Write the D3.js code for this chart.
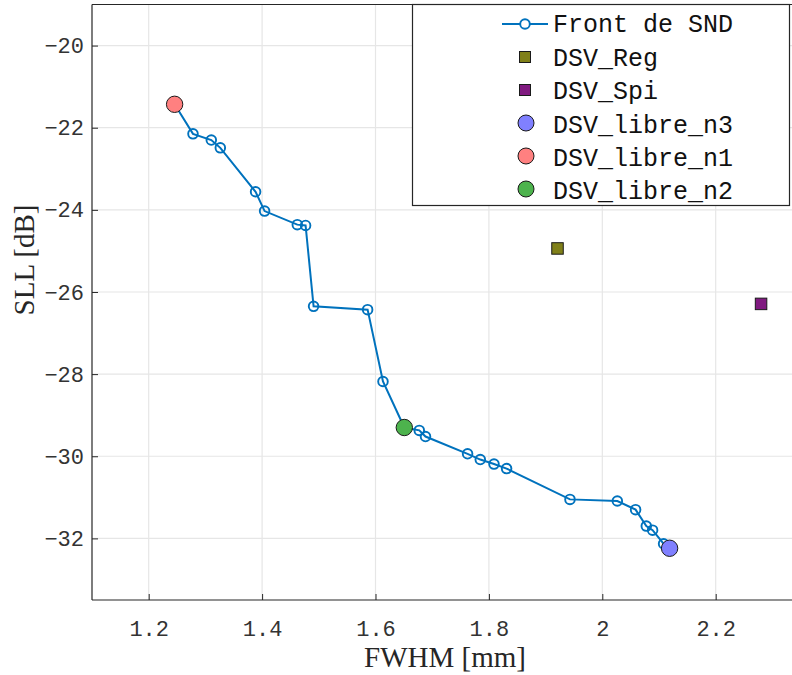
<!DOCTYPE html>
<html><head><meta charset="utf-8">
<script src="https://cdn.jsdelivr.net/npm/d3@7"></script>
<style>body{margin:0;background:#fff}svg{display:block}</style>
</head><body>
<svg id="c" width="792" height="675"></svg>
<script>
// ---- data ----
const frontFWHM = [1.2457,1.2781,1.3104,1.3263,1.3885,1.4044,1.4621,1.4767,1.4908,1.5861,1.6132,1.6508,1.6772,1.6882,1.7624,1.7848,1.8090,1.8312,1.9430,2.0265,2.0587,2.0776,2.0887,2.1081,2.1187];
const frontSLL  = [-21.43,-22.15,-22.30,-22.49,-23.56,-24.03,-24.36,-24.38,-26.35,-26.43,-28.18,-29.30,-29.37,-29.52,-29.94,-30.08,-30.19,-30.30,-31.05,-31.09,-31.30,-31.70,-31.80,-32.13,-32.24];
const regPoint = [1.921, -24.94];
const spiPoint = [2.280, -26.29];
const libreN3 = [2.1187, -32.24];
const libreN1 = [1.2457, -21.43];
const libreN2 = [1.6508, -29.30];
const xTicks = [1.2,1.4,1.6,1.8,2,2.2];
const yTicks = [-32,-30,-28,-26,-24,-22,-20];
const xLabel = "FWHM [mm]";
const yLabel = "SLL [dB]";
const legendLabels = ["Front de SND","DSV_Reg","DSV_Spi","DSV_libre_n3","DSV_libre_n1","DSV_libre_n2"];

// ---- layout ----
const L = 92, T = 4.5, B = 600, W = 792;
const x = d3.scaleLinear().domain([1.1, 2.4]).range([L, L + 1.3*567]);
const y = d3.scaleLinear().domain([-33.5, -19]).range([B, T]);
const svg = d3.select("#c");
const monoFont = "'Liberation Mono', 'DejaVu Sans Mono', monospace";
const serifFont = "'Liberation Serif', 'DejaVu Serif', serif";
const blue = "#0072BD";

svg.append("defs").append("clipPath").attr("id","clip")
  .append("rect").attr("x",L).attr("y",T).attr("width",W-L).attr("height",B-T);

// grid
const g = svg.append("g");
g.selectAll(".gx").data(xTicks).enter().append("line")
  .attr("x1",d=>x(d)).attr("x2",d=>x(d)).attr("y1",T).attr("y2",B)
  .attr("stroke","#e6e6e6").attr("stroke-width",1.2);
g.selectAll(".gy").data(yTicks).enter().append("line")
  .attr("x1",L).attr("x2",W).attr("y1",d=>y(d)).attr("y2",d=>y(d))
  .attr("stroke","#e6e6e6").attr("stroke-width",1.2);

// axes (ticks inward)
const xAxis = d3.axisBottom(x).tickValues(xTicks).tickSizeInner(-6).tickSizeOuter(0).tickPadding(20)
  .tickFormat(d=>String(+d.toFixed(1)));
const yAxis = d3.axisLeft(y).tickValues(yTicks).tickSizeInner(-6).tickSizeOuter(0).tickPadding(8)
  .tickFormat(d=>"\u2212"+Math.abs(d));
const gx = svg.append("g").attr("transform",`translate(0,${B})`).call(xAxis);
const gy = svg.append("g").attr("transform",`translate(${L},0)`).call(yAxis);
[gx,gy].forEach(a=>{
  a.select(".domain").remove();
  a.selectAll(".tick line").attr("stroke","#262626").attr("stroke-width",1);
  a.selectAll("text").attr("font-family",monoFont).attr("font-size",22).attr("fill","#333");
});
// box lines
svg.append("line").attr("x1",L).attr("x2",W).attr("y1",B).attr("y2",B).attr("stroke","#262626").attr("stroke-width",1.2);
svg.append("line").attr("x1",L).attr("x2",W).attr("y1",T).attr("y2",T).attr("stroke","#262626").attr("stroke-width",1.2);
svg.append("line").attr("x1",L).attr("x2",L).attr("y1",T).attr("y2",B).attr("stroke","#262626").attr("stroke-width",1.2);

// axis titles
svg.append("text").attr("x",445).attr("y",667).attr("text-anchor","middle")
  .attr("font-family",serifFont).attr("font-size",29).attr("fill","#262626").text(xLabel);
svg.append("text").attr("transform","translate(34,260) rotate(-90)").attr("text-anchor","middle")
  .attr("font-family",serifFont).attr("font-size",29).attr("fill","#262626").text(yLabel);

// plot
const p = svg.append("g").attr("clip-path","url(#clip)");
const pts = frontFWHM.map((v,i)=>[v, frontSLL[i]]);
p.append("path").datum(pts)
  .attr("d", d3.line().x(d=>x(d[0])).y(d=>y(d[1])))
  .attr("fill","none").attr("stroke",blue).attr("stroke-width",2);
p.selectAll(".m").data(pts).enter().append("circle")
  .attr("cx",d=>x(d[0])).attr("cy",d=>y(d[1])).attr("r",4.8)
  .attr("fill","none").attr("stroke",blue).attr("stroke-width",1.9);

function square(sel, pt, color, s){
  sel.append("rect").attr("x",x(pt[0])-s/2).attr("y",y(pt[1])-s/2).attr("width",s).attr("height",s)
    .attr("fill",color).attr("stroke","#1a1a1a").attr("stroke-width",1);
}
function dot(sel, pt, color, r){
  sel.append("circle").attr("cx",x(pt[0])).attr("cy",y(pt[1])).attr("r",r)
    .attr("fill",color).attr("stroke","#1a1a1a").attr("stroke-width",1);
}
square(p, regPoint, "#808019", 11.5);
square(p, spiPoint, "#801a80", 11.5);
dot(p, libreN3, "#8080ff", 8.2);
dot(p, libreN1, "#ff8080", 8.2);
dot(p, libreN2, "#4db34d", 8.2);

// legend
const lg = svg.append("g");
lg.append("rect").attr("x",412.5).attr("y",T).attr("width",377).attr("height",201)
  .attr("fill","#fff").attr("stroke","#262626").attr("stroke-width",1.2);
const rows = [24, 58, 91, 125, 158, 191];
const mx = 525;
lg.append("line").attr("x1",502).attr("x2",548).attr("y1",rows[0]).attr("y2",rows[0]).attr("stroke",blue).attr("stroke-width",2);
lg.append("circle").attr("cx",mx).attr("cy",rows[0]).attr("r",4.8).attr("fill","#fff").attr("stroke",blue).attr("stroke-width",1.9);
const legMarks = [null,
  {t:"s",c:"#808019"},{t:"s",c:"#801a80"},{t:"c",c:"#8080ff"},{t:"c",c:"#ff8080"},{t:"c",c:"#4db34d"}];
legMarks.forEach((m,i)=>{
  if(!m) return;
  if(m.t==="s") lg.append("rect").attr("x",mx-5.5).attr("y",rows[i]-6.5).attr("width",11).attr("height",11)
      .attr("fill",m.c).attr("stroke","#1a1a1a").attr("stroke-width",1);
  else lg.append("circle").attr("cx",mx+1).attr("cy",rows[i]-2).attr("r",8)
      .attr("fill",m.c).attr("stroke","#1a1a1a").attr("stroke-width",1);
});
lg.selectAll(".lt").data(legendLabels).enter().append("text")
  .attr("x",553).attr("y",(d,i)=>rows[i]+8).attr("font-family",monoFont).attr("font-size",25)
  .attr("fill","#111").text(d=>d);
</script>
</body></html>
